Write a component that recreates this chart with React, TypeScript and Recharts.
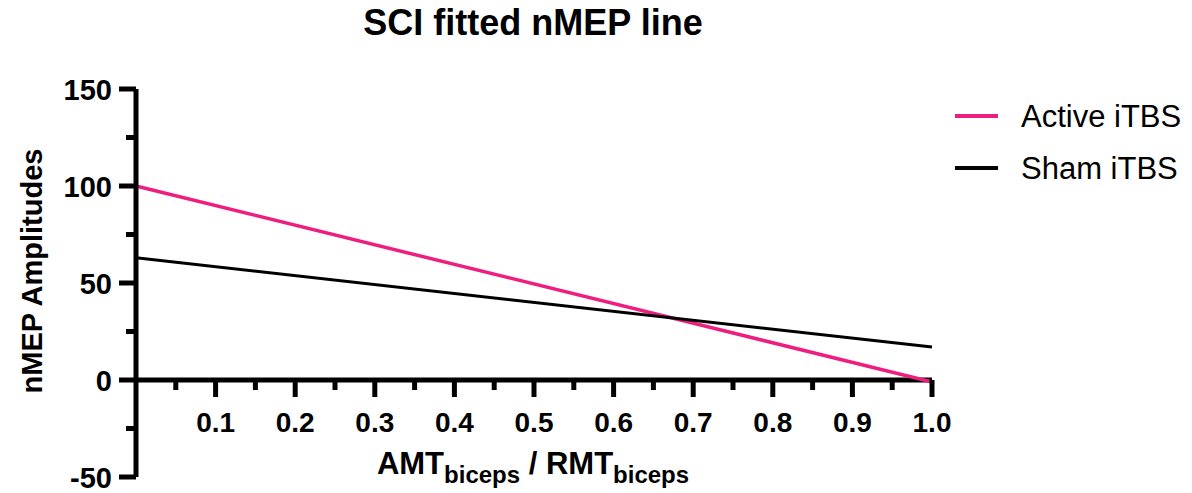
import React from 'react';
import { LineChart, Line, XAxis, YAxis, ReferenceLine, ReferenceDot, Legend } from 'recharts';

const xValues = [0, 1];
const activeValues = [100, -1];
const shamValues = [63, 17];
const seriesNames = ['Active iTBS', 'Sham iTBS'];
const seriesColors = ['#EE1E80', '#000000'];
const xMajorTicks = [0.1, 0.2, 0.3, 0.4, 0.5, 0.6, 0.7, 0.8, 0.9, 1.0];
const xTickLabels = ['0.1', '0.2', '0.3', '0.4', '0.5', '0.6', '0.7', '0.8', '0.9', '1.0'];
const xMinorTicks = [0.05, 0.15, 0.25, 0.35, 0.45, 0.55, 0.65, 0.75, 0.85, 0.95];
const yMajorTicks = [-50, 0, 50, 100, 150];
const yMinorTicks = [-25, 25, 75, 125];
const yAllTicks = [-50, -25, 0, 25, 50, 75, 100, 125, 150];

const FONT = '"Liberation Sans", Arial, Helvetica, sans-serif';

const data = xValues.map((x, i) => ({ x, active: activeValues[i], sham: shamValues[i] }));

const YTick = (props: any) => {
  const { x, y, payload } = props;
  const major = yMajorTicks.includes(payload.value);
  const len = major ? 17 : 10;
  return (
    <g>
      <line x1={x} x2={x - len} y1={y} y2={y} stroke="#000" strokeWidth={5} />
      {major && (
        <text x={x - 24} y={y} dy={11} textAnchor="end" fontSize={29} fontWeight="bold" fill="#000" fontFamily={FONT}>
          {payload.value}
        </text>
      )}
    </g>
  );
};

const XTickShape = (props: any) => {
  const { cx, cy, label, len } = props;
  return (
    <g>
      <line x1={cx} x2={cx} y1={cy} y2={cy + len} stroke="#000" strokeWidth={5} />
      {label && (
        <text x={cx} y={cy + 52} textAnchor="middle" fontSize={28} fontWeight="bold" fill="#000" fontFamily={FONT}>
          {label}
        </text>
      )}
    </g>
  );
};

const LegendContent = (props: any) => {
  const payload = props.payload || [];
  return (
    <svg width={252} height={110} style={{ display: 'block' }}>
      {payload.map((p: any, i: number) => (
        <g key={i}>
          <line x1={15} x2={58} y1={26 + 52 * i} y2={26 + 52 * i} stroke={p.color} strokeWidth={4} />
          <text x={81} y={26 + 52 * i + 11} fontSize={31} fill="#000" fontFamily={FONT}>
            {p.value}
          </text>
        </g>
      ))}
    </svg>
  );
};

export default function App() {
  return (
    <div style={{ position: 'absolute', left: 0, top: 0, width: 1192, height: 493, background: '#fff' }}>
      <LineChart width={1192} height={493} data={data} margin={{ top: 89, right: 260, bottom: 16, left: 0 }}>
        <XAxis type="number" dataKey="x" domain={[0, 1]} hide />
        <YAxis
          type="number"
          domain={[-50, 150]}
          ticks={yAllTicks}
          interval={0}
          width={136}
          tickSize={0}
          tickMargin={0}
          tickLine={false}
          axisLine={{ stroke: '#000', strokeWidth: 5 }}
          tick={<YTick />}
        />
        <ReferenceLine y={0} stroke="#000" strokeWidth={5} />
        {xMinorTicks.map((t) => (
          <ReferenceDot key={'m' + t} x={t} y={0} r={0} shape={(p: any) => <XTickShape cx={p.cx} cy={p.cy} len={10} />} />
        ))}
        {xMajorTicks.map((t, i) => (
          <ReferenceDot
            key={'M' + t}
            x={t}
            y={0}
            r={0}
            shape={(p: any) => <XTickShape cx={p.cx} cy={p.cy} len={17} label={xTickLabels[i]} />}
          />
        ))}
        <Line type="linear" dataKey="active" name={seriesNames[0]} stroke={seriesColors[0]} strokeWidth={3.5} dot={false} isAnimationActive={false} />
        <Line type="linear" dataKey="sham" name={seriesNames[1]} stroke={seriesColors[1]} strokeWidth={3} dot={false} isAnimationActive={false} />
        <Legend
          layout="horizontal"
          align="center"
          verticalAlign="middle"
          wrapperStyle={{ left: 940, top: 90, width: 252, height: 110 }}
          content={<LegendContent />}
        />
      </LineChart>
      <svg width={1192} height={493} style={{ position: 'absolute', left: 0, top: 0, pointerEvents: 'none' }}>
        <text x={533} y={35} textAnchor="middle" fontSize={36} fontWeight="bold" fill="#000" fontFamily={FONT}>
          SCI fitted nMEP line
        </text>
        <text
          x={42}
          y={271}
          textAnchor="middle"
          fontSize={29}
          fontWeight="bold"
          fill="#000"
          fontFamily={FONT}
          transform="rotate(-90, 42, 271)"
        >
          nMEP Amplitudes
        </text>
        <text x={533} y={474} textAnchor="middle" fontSize={31} fontWeight="bold" fill="#000" fontFamily={FONT}>
          AMT
          <tspan fontSize={24} dy={9}>biceps</tspan>
          <tspan fontSize={31} dy={-9}>{' / RMT'}</tspan>
          <tspan fontSize={24} dy={9}>biceps</tspan>
        </text>
      </svg>
    </div>
  );
}
